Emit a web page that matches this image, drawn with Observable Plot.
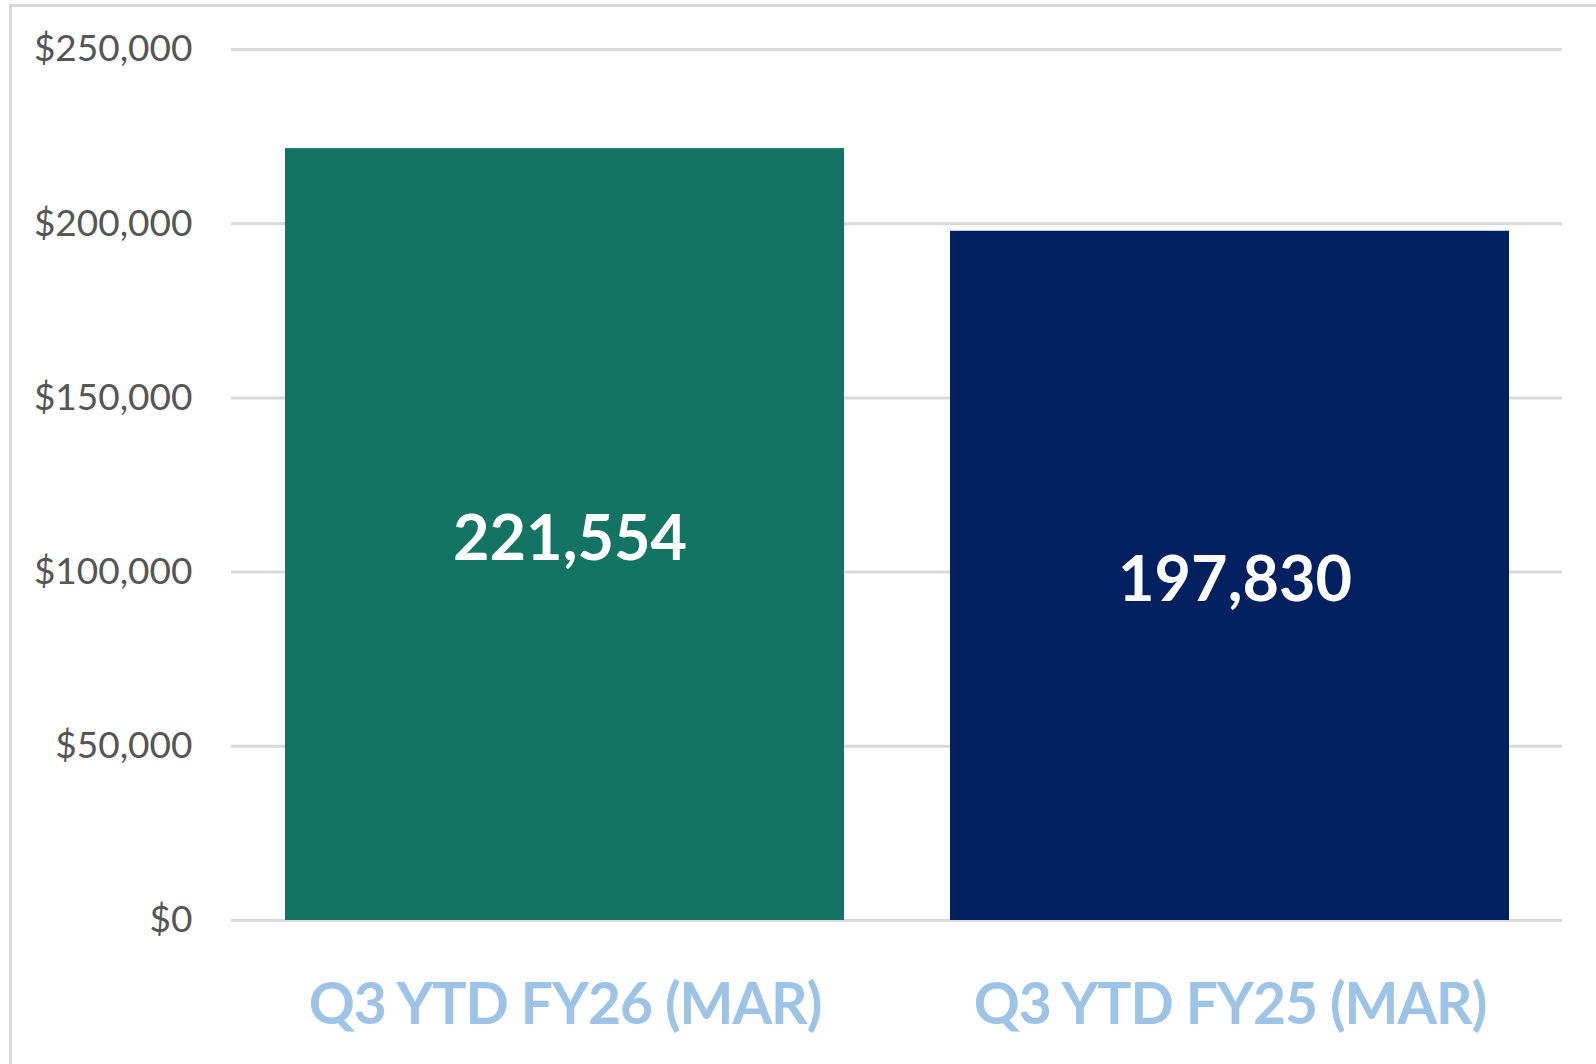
<!DOCTYPE html>
<html>
<head>
<meta charset="utf-8">
<script src="https://cdn.jsdelivr.net/npm/d3@7"></script>
<script src="https://cdn.jsdelivr.net/npm/@observablehq/plot@0.6"></script>
<style>
  html, body { margin: 0; padding: 0; background: #ffffff; overflow: hidden; }
  #wrap { position: relative; width: 1596px; height: 1064px; }
  #frame { position: absolute; left: 9px; top: 4px; width: 1700px; height: 1200px;
           border-top: 3px solid #d9d9d9; border-left: 3px solid #d9d9d9; }
  #chart { position: absolute; left: 0; top: 0; }
  #chart g[aria-label="x-axis tick label"] text { letter-spacing: -1px; }
</style>
</head>
<body>
<div id="wrap"><div id="frame"></div><div id="chart"></div></div>
<script>
const categories = ["Q3 YTD FY26 (MAR)", "Q3 YTD FY25 (MAR)"];
const values = [221554, 197830];
const barColors = ["#137464", "#002060"];
const yTicks = [0, 50000, 100000, 150000, 200000, 250000];

const data = categories.map((c, i) => ({cat: c, value: values[i]}));
const fmt = d3.format(",");

const chart = Plot.plot({
  width: 1596,
  height: 1064,
  marginLeft: 231,
  marginRight: 34,
  marginTop: 49,
  marginBottom: 144,
  style: {fontFamily: "Lato, 'Open Sans', sans-serif", background: "transparent"},
  x: {domain: categories, paddingInner: 0.16, paddingOuter: 0.08, label: null},
  y: {domain: [0, 250000], label: null},
  color: {domain: categories, range: barColors},
  marks: [
    Plot.gridY(yTicks, {stroke: "#d9d9d9", strokeWidth: 3, strokeOpacity: 1}),
    Plot.barY(data, {x: "cat", y: "value", fill: "cat"}),
    Plot.text(data, {x: "cat", y: d => d.value / 2, text: d => fmt(d.value),
      fill: "white", fontSize: 63, fontWeight: "bold", dx: 5, dy: 5}),
    Plot.axisY(yTicks, {tickSize: 0, tickPadding: 39, tickFormat: d => "$" + fmt(d),
      fontSize: 37, fill: "#555555", label: null}),
    Plot.axisX({tickSize: 0, tickPadding: 63, fontSize: 57, fontWeight: "bold",
      fill: "#9DC3E6", label: null})
  ]
});
document.getElementById("chart").appendChild(chart);
</script>
</body>
</html>
